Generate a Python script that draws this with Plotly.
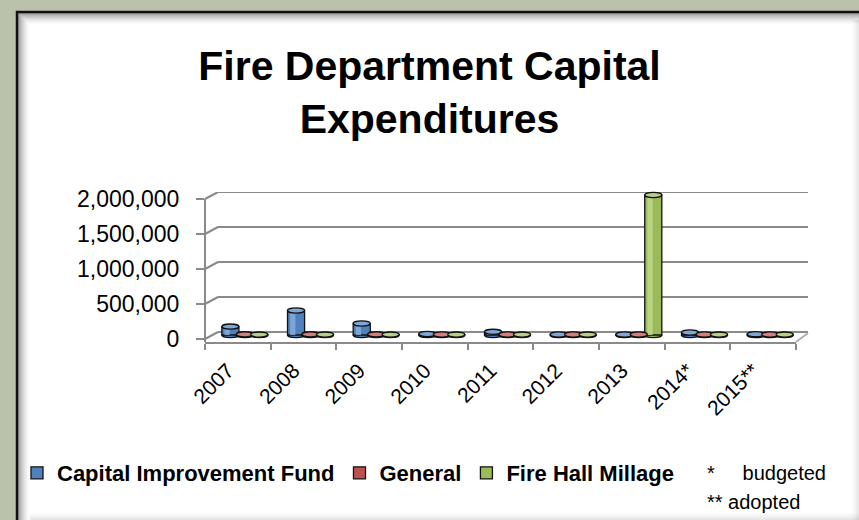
import plotly.graph_objects as go

# ---- data -------------------------------------------------------------
years = ["2007", "2008", "2009", "2010", "2011", "2012", "2013", "2014*", "2015**"]
capital_improvement = [120000, 350000, 165000, 15000, 45000, 8000, 8000, 35000, 12000]
general = [9000, 9000, 9000, 8000, 8000, 7000, 7000, 8000, 8000]
fire_hall_millage = [6000, 6000, 6000, 6000, 6000, 6000, 2000000, 6000, 6000]
series_names = ["Capital Improvement Fund", "General", "Fire Hall Millage"]
y_ticks = [0, 500000, 1000000, 1500000, 2000000]

series_values = [capital_improvement, general, fire_hall_millage]
colors = ["#4F81BD", "#C0504D", "#9BBB59"]
light_colors = ["#86ACDC", "#D98A88", "#BED98C"]
top_colors = ["#7FA6D6", "#D47E7C", "#B7D083"]

# ---- canvas geometry (pixels) -----------------------------------------
W, H = 859, 520
L, R, T, B = 205, 808, 180, 342


def px(x):
    return (x - L) / (R - L)


def py(y):
    return (B - y) / (B - T)


FONT = "Liberation Sans, Arial, sans-serif"
GRID = "#8A8A8A"

bar_w = 0.26
centers = [-0.22, 0.0, 0.22]
xs = list(range(len(years)))

fig = go.Figure()

# cylinder bodies
for name, vals, col, c in zip(series_names, series_values, colors, centers):
    fig.add_trace(go.Bar(
        x=xs, y=vals, name=name, width=bar_w, offset=c - bar_w / 2,
        marker=dict(color=col, line=dict(color="#111111", width=1.3)),
        xaxis="x", yaxis="y",
    ))
# soft highlight down each cylinder
for name, vals, lcol, c in zip(series_names, series_values, light_colors, centers):
    fig.add_trace(go.Bar(
        x=xs, y=vals, name=name, width=0.08, offset=c - 0.09,
        marker=dict(color=lcol, line=dict(width=0), opacity=0.85),
        xaxis="x", yaxis="y", showlegend=False, hoverinfo="skip",
    ))

shapes = []

# panel frame with soft inner shading
shapes.append(dict(type="rect", xref="paper", yref="paper", layer="below",
                   x0=px(17), x1=px(880), y0=py(545), y1=py(12),
                   fillcolor="#FFFFFF", line=dict(width=0)))
for k in range(12):
    a = 0.38 * (1 - k / 12) ** 1.7
    fill = f"rgba(0,0,0,{a:.3f})"
    shapes.append(dict(type="rect", xref="paper", yref="paper", layer="below",
                       x0=px(18 + k), x1=px(19 + k), y0=py(520), y1=py(13 + k),
                       fillcolor=fill, line=dict(width=0)))
    shapes.append(dict(type="rect", xref="paper", yref="paper", layer="below",
                       x0=px(19 + k), x1=px(859), y0=py(14 + k), y1=py(13 + k),
                       fillcolor=fill, line=dict(width=0)))
for k in range(8):
    a = 0.10 * (1 - k / 8) ** 1.5
    fill = f"rgba(0,0,0,{a:.3f})"
    shapes.append(dict(type="rect", xref="paper", yref="paper", layer="below",
                       x0=px(858 - k), x1=px(859 - k), y0=py(520), y1=py(20),
                       fillcolor=fill, line=dict(width=0)))
    shapes.append(dict(type="rect", xref="paper", yref="paper", layer="below",
                       x0=px(30), x1=px(859), y0=py(520 - k), y1=py(519 - k),
                       fillcolor=fill, line=dict(width=0)))
shapes.append(dict(type="rect", xref="paper", yref="paper", layer="below",
                   x0=px(17), x1=px(880), y0=py(545), y1=py(12),
                   line=dict(color="#111111", width=2.5)))

# back wall gridlines with the perspective slant on the left wall
for v in y_ticks:
    shapes.append(dict(type="line", xref="paper", yref="y2", layer="below",
                       x0=px(205), x1=px(218), ysizemode="pixel", yanchor=v, y0=0, y1=7,
                       line=dict(color=GRID, width=2)))
    shapes.append(dict(type="line", xref="paper", yref="y2", layer="below",
                       x0=px(218), x1=px(808), ysizemode="pixel", yanchor=v, y0=7, y1=7,
                       line=dict(color=GRID, width=2)))
# left wall front edge
shapes.append(dict(type="line", xref="paper", yref="y2", layer="below",
                   x0=px(205), x1=px(205), y0=-42857, y1=y_ticks[-1],
                   line=dict(color=GRID, width=2)))
# floor right edge
shapes.append(dict(type="line", xref="paper", yref="paper", layer="below",
                   x0=px(796), x1=px(808), y0=py(342), y1=py(333),
                   line=dict(color="#B0B0B0", width=2)))

# cylinder caps and bases
for vals, col, tcol, c in zip(series_values, colors, top_colors, centers):
    for i, v in enumerate(vals):
        shapes.append(dict(type="circle", xref="x", yref="y", layer="below",
                           xsizemode="pixel", xanchor=i + c, x0=-8.5, x1=8.5,
                           ysizemode="pixel", yanchor=0, y0=-2.6, y1=2.6,
                           fillcolor=col, line=dict(color="#111111", width=1.3)))
        shapes.append(dict(type="circle", xref="x", yref="y", layer="above",
                           xsizemode="pixel", xanchor=i + c, x0=-8.5, x1=8.5,
                           ysizemode="pixel", yanchor=v, y0=-2.6, y1=2.6,
                           fillcolor=tcol, line=dict(color="#111111", width=1.3)))

annotations = [
    dict(xref="paper", yref="paper", x=px(705), y=py(473), xanchor="left", yanchor="middle",
         text="*\u00a0\u00a0\u00a0\u00a0\u00a0budgeted", showarrow=False,
         font=dict(family=FONT, size=20, color="#000000")),
    dict(xref="paper", yref="paper", x=px(705), y=py(502), xanchor="left", yanchor="middle",
         text="** adopted", showarrow=False,
         font=dict(family=FONT, size=20, color="#000000")),
]

fig.update_layout(
    width=W, height=H,
    margin=dict(l=L, r=W - R, t=T, b=H - B, pad=0),
    paper_bgcolor="#BBC2AC",
    plot_bgcolor="rgba(0,0,0,0)",
    barmode="overlay",
    showlegend=True,
    title=dict(text="<b>Fire Department Capital<br>Expenditures</b>",
               x=0.5, xanchor="center", xref="container",
               y=1 - 80 / H, yanchor="top", yref="container",
               font=dict(family=FONT, size=41, color="#000000")),
    legend=dict(orientation="h", x=px(17), xanchor="left", y=py(473), yanchor="middle",
                font=dict(family=FONT, size=22, color="#000000", weight="bold"),
                bgcolor="rgba(0,0,0,0)", itemwidth=30, itemclick=False),
    xaxis=dict(domain=[px(212), px(803)], range=[-0.5, 8.5], visible=False,
               anchor="y", fixedrange=True),
    yaxis=dict(domain=[py(342), py(188)], range=[-100000, 2100000], visible=False,
               anchor="x", fixedrange=True),
    xaxis2=dict(domain=[px(205), px(796)], range=[-0.5, 8.5], anchor="y2",
                tickmode="array", tickvals=xs, ticktext=years, tickangle=-45,
                ticks="", showgrid=False, zeroline=False,
                showline=True, linecolor=GRID, linewidth=2,
                ticklabelshift=-10, ticklabelstandoff=6,
                minor=dict(tickmode="array", tickvals=[i - 0.5 for i in range(len(years) + 1)],
                           ticks="outside", ticklen=6, tickcolor=GRID, tickwidth=2),
                tickfont=dict(family=FONT, size=21, color="#000000"), fixedrange=True),
    yaxis2=dict(domain=[py(342), py(192)], range=[-42857, 2100000], anchor="x2",
                tickmode="array", tickvals=y_ticks,
                ticktext=[f"{v:,}" for v in y_ticks],
                ticks="outside", ticklen=8, tickcolor=GRID, tickwidth=2,
                ticklabelstandoff=12,
                showgrid=False, zeroline=False, showline=False,
                tickfont=dict(family=FONT, size=23, color="#000000"), fixedrange=True),
    shapes=shapes,
    annotations=annotations,
)

fig.write_html("out.html")
